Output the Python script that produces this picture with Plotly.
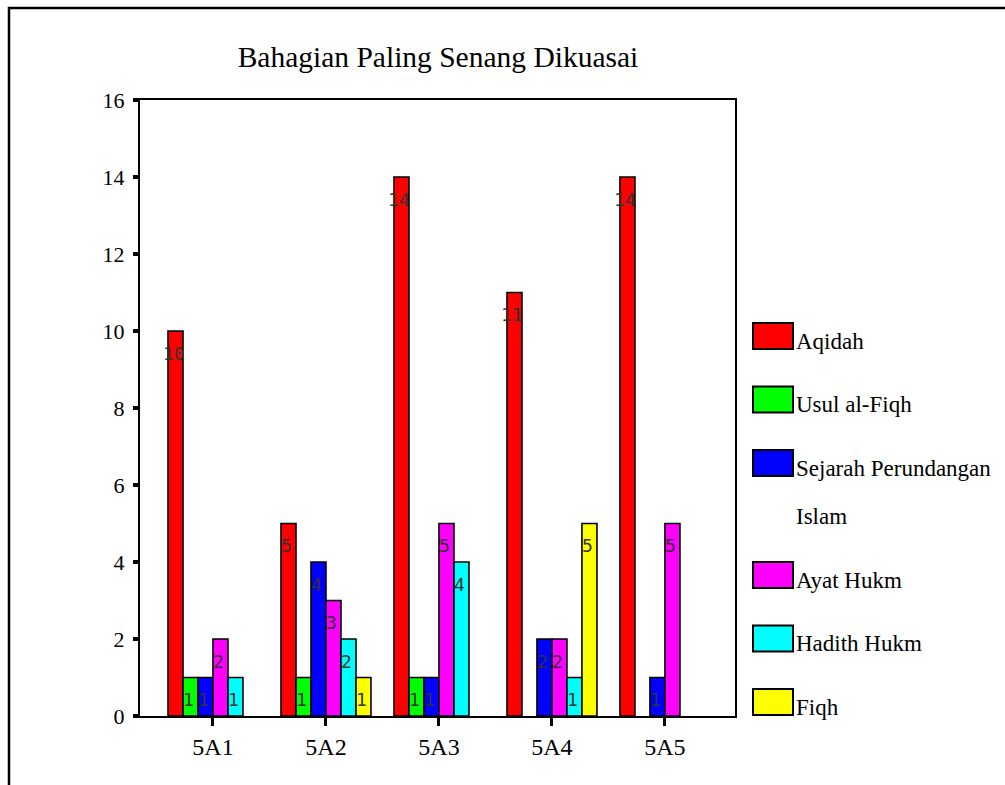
import plotly.graph_objects as go

# ---- data ----
categories = ["5A1", "5A2", "5A3", "5A4", "5A5"]
series_names = ["Aqidah", "Usul al-Fiqh", "Sejarah Perundangan<br>Islam",
                "Ayat Hukm", "Hadith Hukm", "Fiqh"]
aqidah = [10, 5, 14, 11, 14]
usul_al_fiqh = [1, 1, 1, 0, 0]
sejarah = [1, 4, 1, 2, 1]
ayat_hukm = [2, 3, 5, 2, 5]
hadith_hukm = [1, 2, 4, 1, 0]
fiqh = [0, 1, 0, 5, 0]
y_ticks = [0, 2, 4, 6, 8, 10, 12, 14, 16]
title_text = "Bahagian Paling Senang Dikuasai"

series_values = [aqidah, usul_al_fiqh, sejarah, ayat_hukm, hadith_hukm, fiqh]
colors = ["#ff0000", "#00ff00", "#0000ff", "#ff00ff", "#00ffff", "#ffff00"]

# ---- layout geometry (pixels) ----
W, H = 1005, 785
PL, PR, PT, PB = 140, 735, 100, 716   # plot area edges
pw, ph = PR - PL, PB - PT


def px(x):
    return (x - PL) / pw


def py(y):
    return (PB - y) / ph


slot = 0.1327
n = len(series_values)

fig = go.Figure()
annotations = []
for j, (name, vals, col) in enumerate(zip(series_names, series_values, colors)):
    off = (j - (n - 1) / 2) * slot
    xs = [i + off for i in range(len(categories))]
    ys = [v if v else None for v in vals]
    fig.add_trace(go.Bar(
        x=xs, y=ys, width=slot, name=name.replace("<br>", " "),
        marker=dict(color=col, line=dict(color="black", width=1.6)),
        showlegend=False, hoverinfo="y+name",
    ))
    for x, v in zip(xs, vals):
        if v:
            annotations.append(dict(
                x=x, y=v, xref="x", yref="y", text=str(v), showarrow=False,
                yshift=-22, xshift=-2,
                font=dict(family="DejaVu Sans Mono", size=18, color="#333333"),
            ))

# ---- custom legend ----
shapes = []
top = 323
for name, col in zip(series_names, colors):
    lines = name.count("<br>") + 1
    shapes.append(dict(type="rect", xref="paper", yref="paper",
                       x0=px(753), x1=px(793), y0=py(top), y1=py(top + 26),
                       fillcolor=col, line=dict(color="black", width=2)))
    parts = name.split("<br>")
    for k, part in enumerate(parts):
        annotations.append(dict(
            xref="paper", yref="paper", x=px(794), y=py(top + 18 + k * 48),
            xanchor="left", yanchor="middle", text=part, showarrow=False,
            font=dict(family="Liberation Serif", size=23, color="black"),
        ))
    top += 63.5 + 48.5 * (lines - 1)

# outer frame (left and top edges)
shapes.append(dict(type="path", xref="paper", yref="paper",
                   path=f"M {px(9)} {py(790)} L {px(9)} {py(8)} L {px(1010)} {py(8)}",
                   line=dict(color="black", width=2.5)))

fig.update_layout(
    width=W, height=H,
    margin=dict(l=PL, r=W - PR, t=PT, b=H - PB, pad=0),
    paper_bgcolor="white", plot_bgcolor="white",
    barmode="overlay",
    showlegend=False,
    title=dict(text=title_text, x=px(438), xref="paper", xanchor="center",
               y=1 - 57 / H, yref="container", yanchor="middle",
               font=dict(family="Liberation Serif", size=29.5, color="black")),
    font=dict(family="Liberation Serif", size=22, color="black"),
    shapes=shapes, annotations=annotations,
)
fig.update_xaxes(
    range=[-0.646, len(categories) - 1 + 0.62],
    tickmode="array", tickvals=list(range(len(categories))), ticktext=categories,
    ticks="outside", ticklen=8, tickwidth=3, tickcolor="black",
    ticklabelstandoff=0,
    showline=True, linecolor="black", linewidth=2, mirror=True,
    showgrid=False, zeroline=False,
    tickfont=dict(family="Liberation Serif", size=24, color="black"),
)
fig.update_yaxes(
    range=[0, 16], tickmode="array", tickvals=y_ticks,
    ticks="outside", ticklen=5, tickwidth=4, tickcolor="black",
    ticklabelstandoff=4,
    showline=True, linecolor="black", linewidth=2, mirror=True,
    showgrid=False, zeroline=False,
    tickfont=dict(family="Liberation Serif", size=22, color="black"),
)

fig.write_html("out.html",
               config={"displayModeBar": False},
               post_script="document.body.style.margin='0';document.body.style.overflow='hidden';")
